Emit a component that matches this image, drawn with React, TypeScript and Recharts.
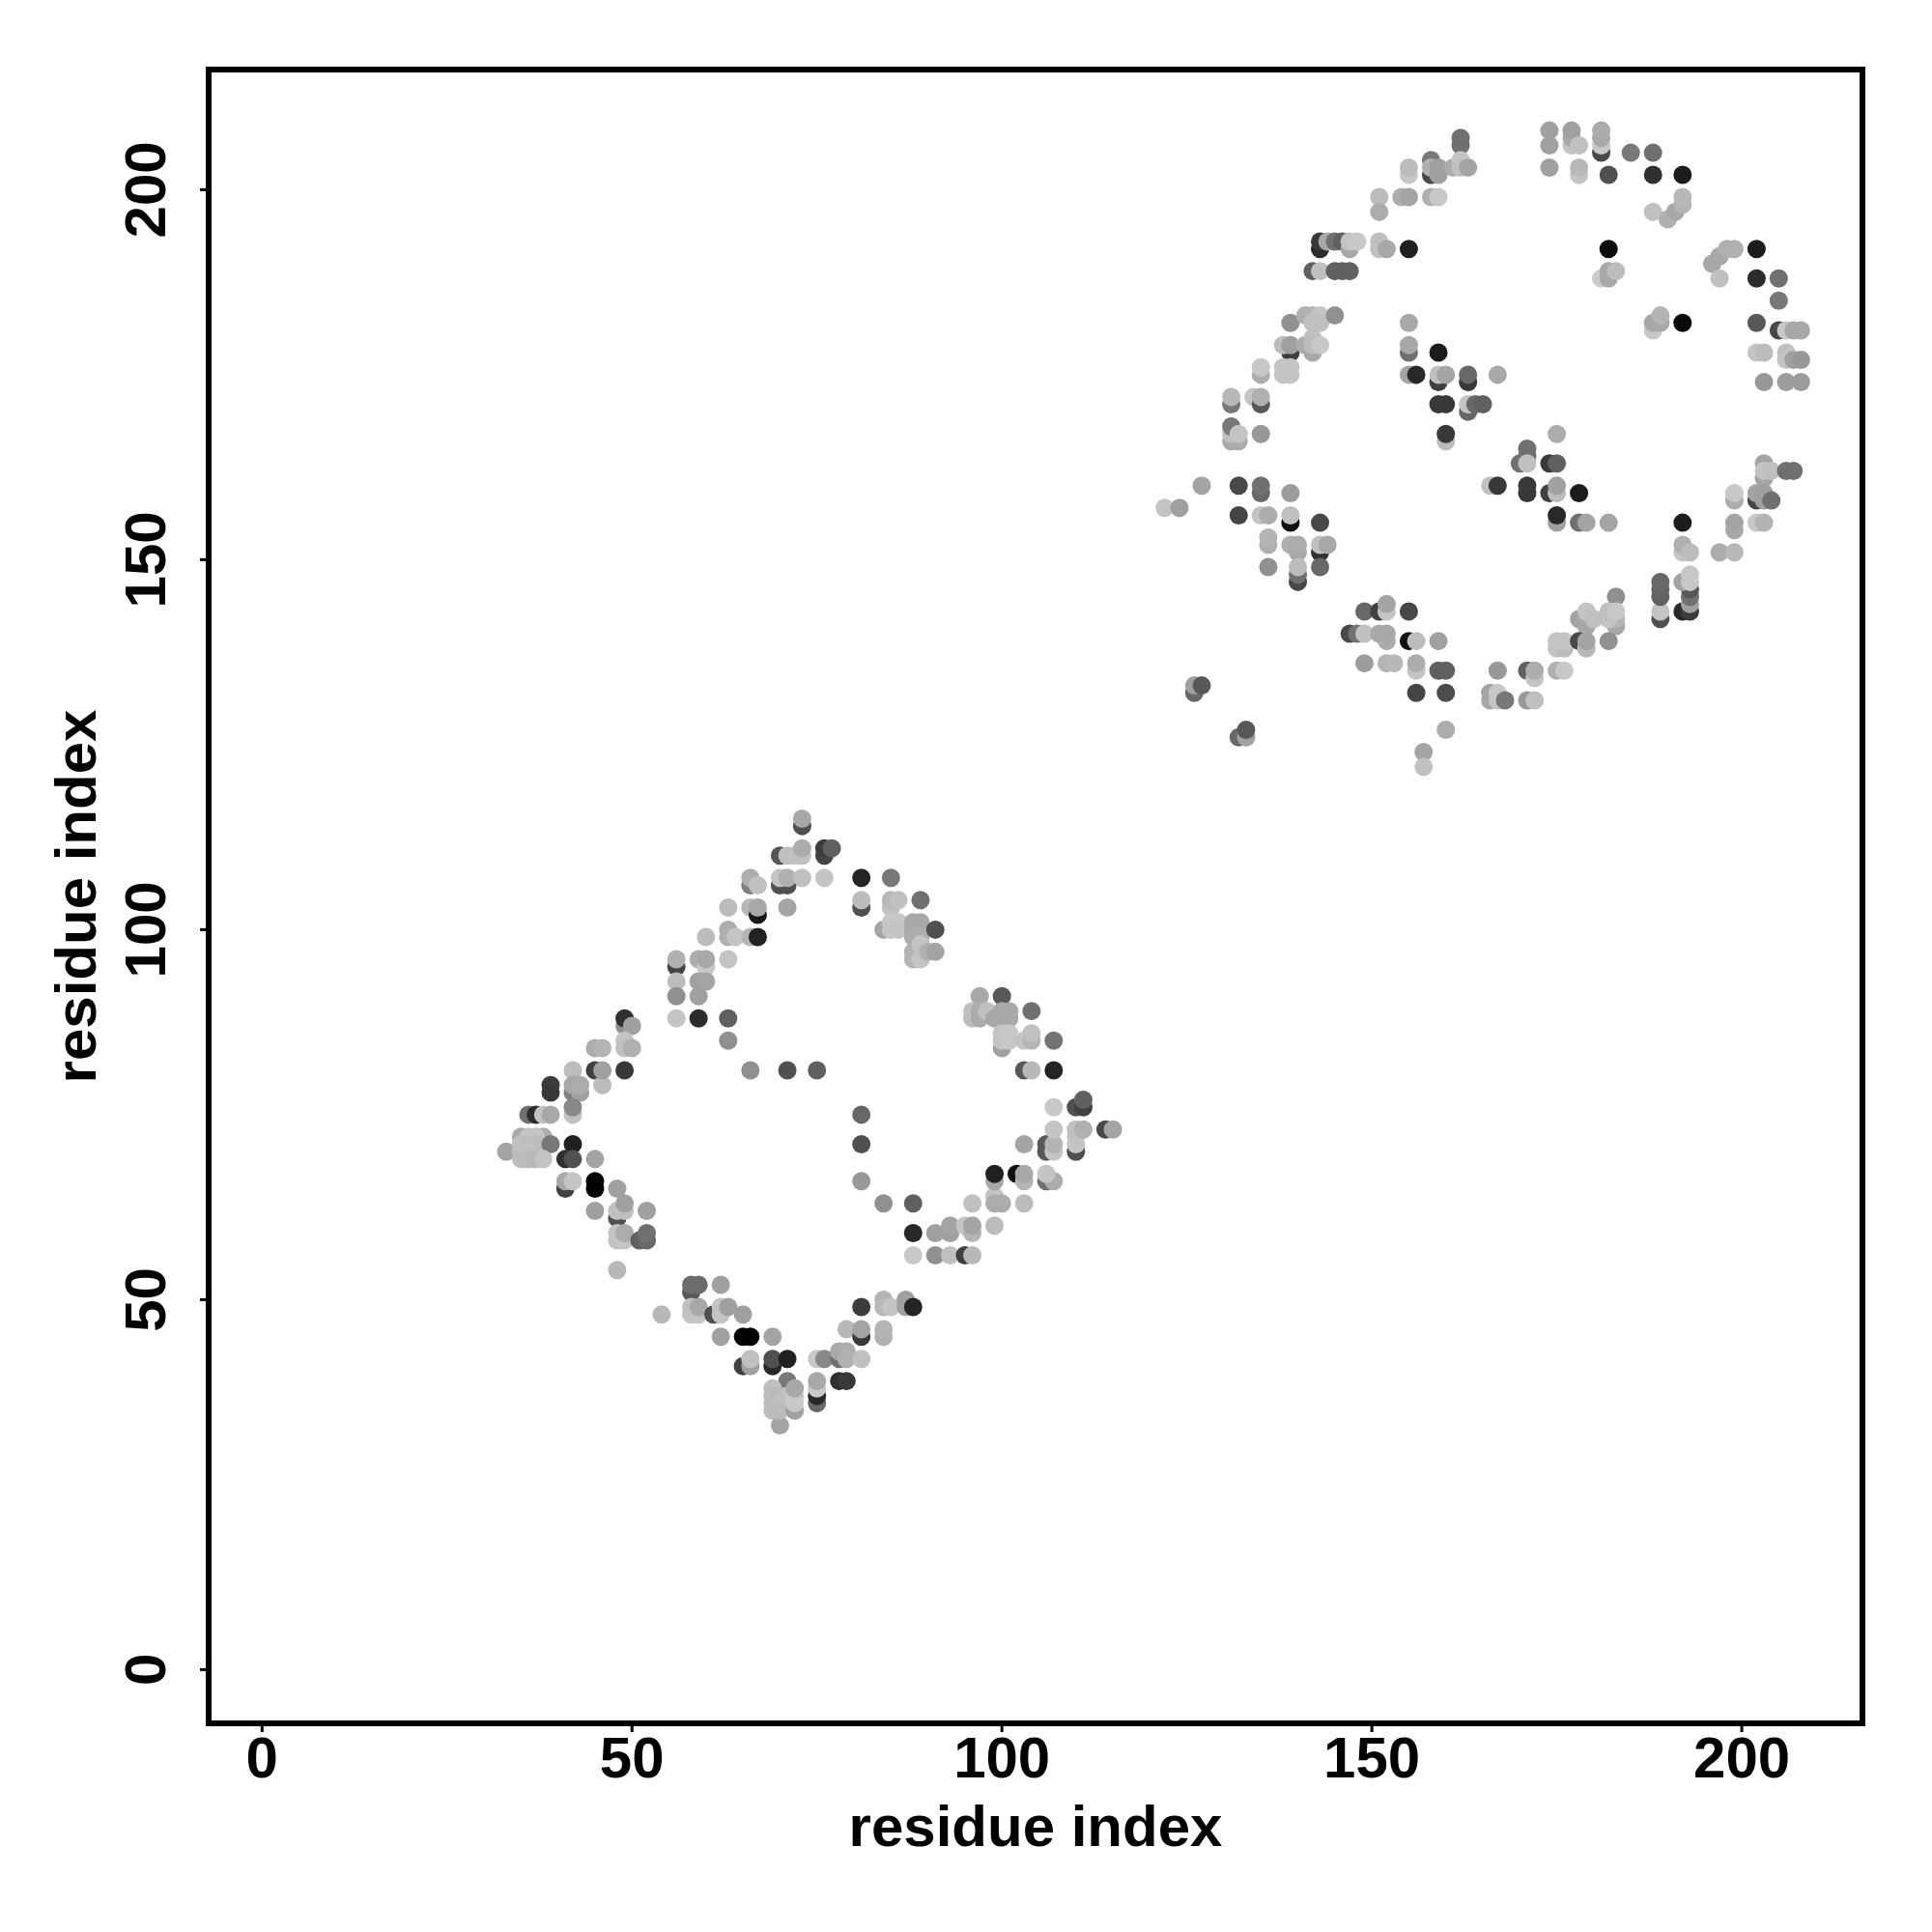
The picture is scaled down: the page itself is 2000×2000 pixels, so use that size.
import React from 'react';
import { ScatterChart, Scatter, XAxis, YAxis, ReferenceArea, Label } from 'recharts';

// Each contact: [residue x, residue y, grey level 0-255]
type Contact = [number, number, number];

const axisTicks = [0, 50, 100, 150, 200];
const axisTitle = 'residue index';
const xDomain: [number, number] = [-7.22, 216.31];
const yDomain: [number, number] = [-7.26, 216.24];

const firstDomainUpperLeft: Contact[] = [
  [73,114,0x50],[73,115,0xa8],[70,110,0x55],[71,110,0xc0],[72,110,0xc0],[73,110,0xc0],[73,111,0xac],
  [76,110,0x44],[76,111,0x3c],[77,111,0x60],[70,106,0x50],[71,106,0x50],[70,107,0xc4],[71,107,0xb0],[73,107,0xc0],[76,107,0xc4],
  [66,106,0x80],[66,107,0xae],[67,106,0xc0],[63,103,0xbc],[66,103,0xb8],[67,102,0x18],[67,103,0xa8],[71,103,0xa4],
  [60,99,0xbc],[63,100,0xac],[63,99,0xb0],[64,99,0xc4],[66,99,0xb4],[67,99,0x22],
  [56,95,0x44],[56,96,0xb0],[59,96,0xac],[60,95,0xc8],[60,96,0xa8],[63,96,0xc4],
  [56,93,0xbc],[59,93,0xa0],[60,93,0xa4],[56,91,0x90],[59,91,0xa0],
  [56,88,0xc4],[59,88,0x2c],[63,88,0x60],[63,85,0x90],
  [49,87,0x90],[49,88,0x30],[50,87,0xa0],[49,85,0xc4],[49,84,0xc0],[50,84,0xb0],[45,84,0xac],[46,84,0xb4],
  [45,81,0x40],[46,79,0xbc],[46,81,0xa0],[49,81,0x38],[42,81,0xbc],[66,81,0x90],[71,81,0x50],[75,81,0x60],
  [39,79,0x3c],[39,78,0x38],[42,78,0x80],[43,78,0xa0],[42,79,0xa8],[43,79,0xac],[42,75,0xc0],[42,76,0x88],
  [36,75,0x70],[37,75,0x2c],[38,75,0xc4],[39,75,0xa8],
  [33,70,0xa4],[35,72,0xa8],[38,72,0xac],[36,72,0xc4],[37,72,0xc4],[35,71,0xc0],[36,71,0xbc],[37,71,0xbc],[39,71,0x78],
  [35,70,0xc0],[36,70,0xc0],[35,69,0xbc],[36,69,0xbc],[37,69,0xb8],[38,69,0xc4],
  [42,71,0x20],[41,69,0x30],[42,69,0x50],[45,69,0xa4],
];

const firstDomainLowerLeft: Contact[] = [
  [41,65,0x40],[41,66,0xa8],[42,66,0xc4],[45,66,0x00],[45,65,0x00],[48,65,0xa0],[48,61,0x50],[48,62,0xc0],[49,62,0xc0],[49,63,0xa0],[45,62,0xa0],[52,62,0xa0],
  [48,59,0xc4],[48,58,0xc4],[49,58,0xc4],[49,59,0xac],[51,58,0x60],[52,58,0x68],[52,59,0x70],[48,54,0xb8],
  [58,51,0x58],[58,52,0x6c],[59,52,0x6c],[62,52,0xa0],[54,48,0xb8],[58,48,0xc4],[59,48,0xc4],[58,49,0xc0],[59,49,0xa8],
  [61,48,0x50],[62,48,0xc4],[62,49,0xc4],[63,49,0xa0],[65,48,0xa0],
  [62,45,0xa0],[65,45,0x00],[66,45,0x00],[69,45,0xa4],[65,41,0x40],[66,41,0xa0],[66,42,0xc0],[69,41,0x28],[69,42,0x50],[71,42,0x20],
  [71,39,0x78],[69,38,0xc0],[69,37,0xbc],[69,36,0xbc],[69,35,0xbc],[70,33,0xa4],[70,37,0xb8],[70,36,0xc0],[70,35,0xbc],[71,37,0xc0],
  [72,35,0xa0],[72,36,0xc8],[72,37,0xc8],[72,38,0xa8],
  [75,36,0x68],[75,37,0x28],[75,38,0xc8],[75,39,0xa8],
];

const firstDomainLowerRight: Contact[] = [
  [75,42,0xc8],[76,42,0x88],[78,42,0x70],[78,43,0xa8],[79,43,0xac],[79,42,0xb0],[81,42,0xc0],[78,39,0x30],[79,39,0x38],
  [79,46,0xb8],[81,45,0x38],[81,46,0xa4],[84,45,0xb0],[84,46,0xb4],
  [81,49,0x3c],[84,50,0xb4],[84,49,0xb8],[85,49,0xc4],[87,50,0xa0],[87,49,0xa0],[88,49,0x24],
  [88,59,0x28],[91,59,0xa0],[93,59,0xa0],[93,60,0xa4],[95,60,0xc4],[96,59,0xb4],[96,60,0xa4],
  [88,56,0xc8],[91,56,0x90],[93,56,0xc0],[95,56,0x40],[96,56,0xb8],
  [96,63,0xc0],[99,60,0xbc],[99,64,0xc4],[99,63,0xac],[100,63,0xac],[103,63,0xbc],
  [99,66,0xa8],[99,67,0x20],[102,67,0x10],[103,66,0xb4],[103,67,0xa8],[106,66,0x70],[107,66,0xac],[106,67,0xc4],
  [103,71,0xa4],[106,70,0x58],[106,71,0x58],[107,70,0xc4],[107,71,0xb4],[107,73,0xc4],[107,76,0xc8],
  [110,70,0x50],[110,71,0xc4],[110,72,0xc4],[110,73,0xc0],[111,73,0xb0],[110,76,0x50],[111,76,0x40],[111,77,0x60],
  [114,73,0x48],[115,73,0xa4],
  [81,75,0x68],[81,71,0x50],[81,66,0x98],[84,63,0x90],[88,63,0x60],
];

const firstDomainUpperRight: Contact[] = [
  [81,107,0x24],[85,107,0x78],[81,103,0x50],[81,104,0xbc],[85,103,0xc0],[85,104,0xb8],[86,104,0xc0],[89,104,0x70],
  [84,100,0xa4],[85,101,0xc8],[86,101,0xc8],[85,100,0xc4],[86,100,0xc4],[88,101,0xa8],[89,101,0xa8],[88,100,0xa8],[89,100,0xa8],[88,99,0xac],[89,99,0xac],[91,100,0x50],
  [88,97,0xb0],[88,96,0xb4],[89,96,0xc4],[89,98,0xc4],[90,97,0xb0],[91,97,0xa4],
  [97,91,0xa8],[100,91,0x58],[96,88,0xbc],[96,89,0xc0],[97,88,0xac],[97,89,0xac],[98,89,0xc0],[99,88,0xa8],[100,89,0xa8],[101,89,0xa8],[100,88,0xa8],[101,88,0xa8],[104,89,0x70],
  [100,84,0xa0],[100,85,0xc4],[100,86,0xc4],[101,85,0xc8],[101,86,0xc8],[103,85,0xc4],[104,85,0xb4],[104,86,0xc0],[107,85,0x74],
  [103,81,0x58],[104,81,0xb8],[107,81,0x24],
];

const secondDomainUpperLeft: Contact[] = [
  [162,207,0x70],[162,206,0x70],[158,202,0x48],[158,204,0x78],[158,203,0xb0],[159,202,0xa0],[159,203,0xa0],[155,202,0xc8],[155,203,0xbc],[161,203,0xac],[162,204,0xc4],[162,203,0xc0],[163,203,0xa4],
  [151,199,0xbc],[151,197,0xac],[154,199,0xac],[155,199,0xa4],[158,199,0xb0],[159,199,0xc8],
  [143,192,0x2c],[143,193,0x38],[144,193,0xa8],[145,193,0x70],[146,193,0x60],[147,192,0xa8],[147,193,0xc4],[148,193,0xc8],[151,192,0xc0],[151,193,0xc0],[152,192,0xa8],[155,192,0x20],
  [142,189,0x60],[143,189,0xc0],[145,189,0x60],[146,189,0x60],[147,189,0x60],
  [139,182,0x90],[141,183,0xb0],[142,183,0xb4],[143,183,0xc4],[142,182,0xc0],[143,182,0xc0],[145,183,0x90],[155,182,0xa8],
  [139,178,0x40],[138,179,0xbc],[139,179,0xa0],[142,178,0xa8],[141,179,0xac],[142,180,0xc0],[142,179,0xbc],[143,179,0xc8],
  [155,178,0x70],[155,179,0xa8],[159,178,0x1c],
  [135,175,0xac],[135,176,0xc8],[138,175,0xc4],[139,175,0xc4],[138,176,0xc4],[139,176,0xc4],
  [155,175,0xa4],[156,175,0x28],[159,174,0x40],[159,175,0xc0],[160,175,0xa4],[163,174,0x38],[163,175,0x68],[167,175,0xa8],
  [131,171,0x78],[131,172,0xb8],[134,172,0xc4],[135,171,0x58],[135,172,0xb0],
  [159,171,0x38],[160,171,0x38],[163,170,0x68],[163,171,0xc4],[164,171,0x68],[165,171,0x60],
  [131,166,0xa8],[132,166,0xac],[131,167,0xc0],[131,168,0x78],[132,167,0xc4],[135,167,0x98],
  [160,166,0xbc],[160,167,0x38],
];

const secondDomainUpperRight: Contact[] = [
  [174,208,0xa0],[174,206,0xa0],[174,203,0xa0],[177,206,0xc4],[177,207,0xa8],[177,208,0xa0],[178,206,0xc0],[178,202,0xc4],[178,203,0xb8],
  [181,205,0x48],[181,206,0xc8],[181,207,0xa8],[181,208,0xac],[182,202,0x50],[185,205,0x78],[188,205,0x70],[188,202,0x30],[192,202,0x1c],
  [188,197,0xc0],[190,196,0xb0],[191,197,0xa8],[192,198,0xb4],[192,199,0xb8],
  [182,192,0x0c],[181,188,0xcc],[182,188,0xa8],[182,189,0xa8],[183,189,0xbc],
  [202,192,0x1c],[196,190,0xa8],[197,191,0xa8],[198,192,0xb0],[199,192,0xb0],[197,188,0xc0],[202,188,0x2c],[205,188,0x70],[205,185,0x78],
  [188,181,0xc8],[188,182,0xa8],[189,182,0xa8],[189,183,0xb4],[192,182,0x08],
  [202,182,0x58],[205,181,0x48],[206,181,0xc8],[207,181,0xa8],[208,181,0xa8],
  [202,178,0xc4],[203,178,0xbc],[206,178,0xc0],[206,177,0xc4],[207,177,0xa0],[208,177,0x98],
  [203,174,0x98],[206,174,0x9c],[208,174,0x9c],
];

const secondDomainLowerLeft: Contact[] = [
  [127,160,0xa4],[122,157,0xc4],[124,157,0xa0],
  [132,160,0x48],[132,156,0x44],[135,159,0x68],[135,160,0x70],[139,159,0x9c],[135,156,0xc4],[136,156,0xac],[139,155,0x10],[139,156,0xc0],[143,155,0x48],
  [136,152,0xb0],[136,153,0xb4],[139,152,0xb0],[140,151,0xa8],[140,152,0xac],[143,151,0x30],[143,152,0xc0],[144,152,0xa8],
  [136,149,0x90],[140,147,0x48],[140,148,0x70],[140,149,0xbc],[143,149,0x68],
  [149,143,0x68],[151,143,0x40],[152,143,0xc4],[152,144,0xa4],[155,143,0x48],
  [147,140,0x48],[148,140,0x70],[149,140,0xc0],[151,140,0xa8],[152,139,0xac],[152,140,0xa8],[155,139,0x10],[156,139,0xbc],[159,139,0xa0],
  [149,136,0x9c],[152,136,0xb4],[153,136,0xb8],[156,135,0xc4],[156,136,0xac],[159,135,0x60],[160,135,0x60],
  [156,132,0x44],[160,132,0x4c],
  [126,132,0x68],[126,133,0xa0],[127,133,0x58],[132,126,0x68],[133,126,0xa0],[133,127,0x58],
  [160,127,0xac],[157,124,0xa4],[157,122,0xc0],
];

const secondDomainLowerRight: Contact[] = [
  [175,167,0xac],[171,165,0x70],[171,164,0x70],[170,163,0x70],[171,163,0xc0],[174,163,0x38],[175,163,0x60],
  [166,160,0xc0],[167,160,0x38],[171,159,0x38],[171,160,0x38],[174,159,0x40],[175,159,0xbc],[175,160,0xa0],[178,159,0x1c],[175,155,0xa0],[175,156,0x28],[178,155,0x70],[179,155,0xa4],[182,155,0xa4],
  [192,155,0x1c],[192,151,0xc4],[192,152,0xb0],[193,151,0xbc],[197,151,0xac],[199,151,0xb8],
  [199,158,0xac],[199,159,0xc8],[199,154,0xa8],[199,155,0xa4],[202,155,0xc8],[203,155,0xb4],
  [203,161,0xa4],[203,163,0xa4],[203,162,0xc4],[204,162,0xc0],[206,162,0x70],[207,162,0x70],[202,158,0x48],[203,158,0xa0],[202,159,0xa4],[203,159,0xa0],[204,158,0x70],
  [189,142,0x50],[189,143,0xc4],[189,145,0x60],[189,146,0x64],[189,147,0x68],
  [192,143,0x28],[193,143,0x3c],[193,144,0xa0],[193,145,0x70],[193,146,0x58],[192,147,0xa4],[193,147,0xc8],[193,148,0xc8],
  [183,145,0x90],[179,141,0xa8],[183,141,0xa8],[178,142,0xa4],[179,142,0xa8],[183,142,0xb4],[182,142,0xc4],[179,143,0xc4],[180,142,0xc0],[182,143,0xc0],[183,143,0xc8],
  [175,138,0xc4],[176,138,0xbc],[175,139,0xc4],[176,139,0xc4],[178,139,0x48],[179,138,0xb8],[179,139,0xa4],[182,139,0x90],
  [167,135,0x98],[171,135,0x60],[172,134,0xc4],[172,135,0xac],[175,135,0xb0],[176,135,0xc8],
  [166,131,0xa8],[166,132,0xa4],[167,131,0xc4],[167,132,0xc8],[168,131,0x78],[171,131,0x98],[172,131,0xc0],
];

const contactGroups = [
  firstDomainUpperLeft, firstDomainLowerLeft, firstDomainLowerRight, firstDomainUpperRight,
  secondDomainUpperLeft, secondDomainUpperRight, secondDomainLowerLeft, secondDomainLowerRight,
];
const chartData = contactGroups.flat().map(([x, y, level]) => ({ x, y, level }));

const FONT = '"Liberation Sans", Arial, sans-serif';
const INK = '#000000';

const Dot = (props: any) => {
  const g = props.payload.level;
  return <circle cx={props.cx} cy={props.cy} r={9.5} fill={`rgb(${g},${g},${g})`} />;
};

const XTick = (props: any) => (
  <text x={props.x} y={1840} textAnchor="middle" fontFamily={FONT} fontWeight="bold" fontSize={60} fill={INK}>
    {props.payload.value}
  </text>
);

const YTick = (props: any) => (
  <text
    transform={`translate(171 ${props.y}) rotate(-90)`}
    textAnchor="middle"
    fontFamily={FONT}
    fontWeight="bold"
    fontSize={60}
    fill={INK}
  >
    {props.payload.value}
  </text>
);

const XTitle = () => (
  <text x={1072} y={1911} textAnchor="middle" fontFamily={FONT} fontWeight="bold" fontSize={60} fill={INK}>
    {axisTitle}
  </text>
);

const YTitle = () => (
  <text
    transform="translate(99 928) rotate(-90)"
    textAnchor="middle"
    fontFamily={FONT}
    fontWeight="bold"
    fontSize={60}
    fill={INK}
  >
    {axisTitle}
  </text>
);

export default function App() {
  return (
    <div style={{ position: 'absolute', left: 0, top: 0, width: 2000, height: 2000, background: '#fff' }}>
      <ScatterChart width={2000} height={2000} margin={{ top: 72, right: 72, bottom: 0, left: 0 }}>
        <XAxis
          type="number"
          dataKey="x"
          domain={xDomain}
          ticks={axisTicks}
          height={216}
          axisLine={false}
          tickSize={9}
          tickLine={{ stroke: INK, strokeWidth: 3 }}
          tick={<XTick />}
          allowDataOverflow
        >
          <Label content={<XTitle />} />
        </XAxis>
        <YAxis
          type="number"
          dataKey="y"
          domain={yDomain}
          ticks={axisTicks}
          width={216}
          axisLine={false}
          tickSize={9}
          tickLine={{ stroke: INK, strokeWidth: 3 }}
          tick={<YTick />}
          allowDataOverflow
        >
          <Label content={<YTitle />} />
        </YAxis>
        <Scatter data={chartData} shape={<Dot />} isAnimationActive={false} />
        <ReferenceArea
          x1={xDomain[0]}
          x2={xDomain[1]}
          y1={yDomain[0]}
          y2={yDomain[1]}
          fill="none"
          stroke={INK}
          strokeWidth={6}
          fillOpacity={0}
          ifOverflow="visible"
        />
      </ScatterChart>
    </div>
  );
}
